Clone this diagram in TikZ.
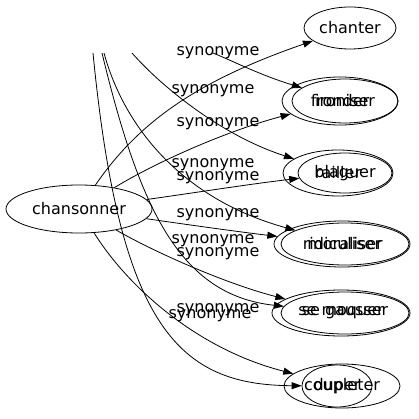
\documentclass[tikz,border=0pt]{standalone}
\usepackage{fontspec}
\setmainfont{DejaVu Sans}
\usetikzlibrary{arrows.meta}
\usetikzlibrary{shapes.geometric}

\begin{document}
\begin{tikzpicture}[x=1pt,y=-1pt,line width=0.8pt,
  word/.style={ellipse,draw,inner sep=0pt,font=\fontsize{16}{18}\selectfont},
  syn/.style={inner sep=0pt,font=\fontsize{16}{18}\selectfont},
  arr/.style={-{Triangle[length=10pt,width=7pt]}}]
\useasboundingbox (0,0) rectangle (418,419);
\node (chansonner) [word,minimum width=146pt,minimum height=48pt] at (79,209) {chansonner};
\node (chanter) [word,minimum width=92pt,minimum height=42pt] at (350,28) {chanter};
\node (fronder) [word,minimum width=116pt,minimum height=48pt] at (340,101) {fronder};
\node (ironiser) [word,minimum width=106pt,minimum height=44pt] at (345,101) {ironiser};
\node (railler) [word,minimum width=110pt,minimum height=46pt] at (338,173) {railler};
\node (blaguer) [word,minimum width=94pt,minimum height=40pt] at (345,173) {blaguer};
\node (ridiculiser) [word,minimum width=136pt,minimum height=46pt] at (342,244) {ridiculiser};
\node (moraliser) [word,minimum width=128pt,minimum height=42pt] at (345,244) {moraliser};
\node (semoquer) [word,minimum width=138pt,minimum height=46pt] at (341,313) {se moquer};
\node (segausser) [word,minimum width=128pt,minimum height=42pt] at (345,313) {se gausser};
\node (coupleter) [word,minimum width=116pt,minimum height=44pt] at (342,386) {coupleter};
\node (duper) [word,minimum width=70pt,minimum height=42pt] at (337,386) {duper};
% free ends at the top
\coordinate (top1) at (93,53);
\coordinate (top2) at (102,53);
\coordinate (top3) at (104,53);
\coordinate (top4) at (132,53);
\coordinate (top5) at (213,53);
% edges from chansonner
\draw[arr] (chansonner) .. controls (140,120) and (200,80) .. (chanter);
\draw[arr] (chansonner) .. controls (160,160) and (230,130) .. (fronder);
\draw[arr] (chansonner) .. controls (200,192) and (250,184) .. (blaguer);
\draw[arr] (chansonner) .. controls (190,225) and (240,232) .. (ridiculiser);
\draw[arr] (chansonner) .. controls (160,255) and (230,285) .. (semoquer);
\draw[arr] (chansonner) .. controls (130,290) and (200,350) .. (coupleter);
% edges from the top
\draw[arr] (top1) .. controls (120,330) and (180,385) .. (duper);
\draw[arr] (top2) .. controls (140,210) and (180,295) .. (segausser);
\draw[arr] (top3) .. controls (125,130) and (185,200) .. (moraliser);
\draw[arr] (top4) .. controls (160,85) and (220,135) .. (railler);
\draw[arr] (top5) .. controls (235,62) and (260,75) .. (ironiser);
% labels
\node (syn1) [syn] at (218,53) {synonyme};
\node (syn2) [syn] at (213,91) {synonyme};
\node (syn3) [syn] at (218,124) {synonyme};
\node (syn4) [syn] at (213,165) {synonyme};
\node (syn5) [syn] at (218,178) {synonyme};
\node (syn6) [syn] at (218,215) {synonyme};
\node (syn7) [syn] at (213,241) {synonyme};
\node (syn8) [syn] at (218,254) {synonyme};
\node (syn9) [syn] at (218,310) {synonyme};
\node (syn10) [syn] at (210,316) {synonyme};
\end{tikzpicture}
\end{document}
